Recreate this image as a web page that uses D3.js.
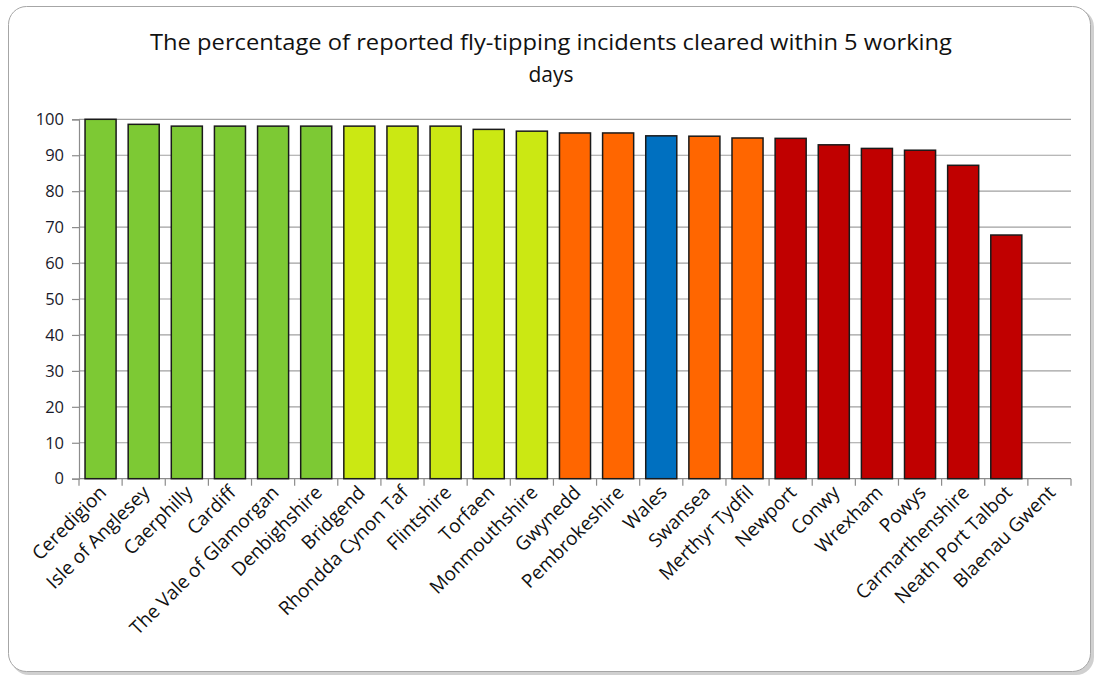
<!doctype html>
<html>
<head>
<style>
  body { margin: 0; background: #fff; }
  text { font-family: "Open Sans", sans-serif; }
</style>
<script src="https://d3js.org/d3.v7.min.js"></script>
</head>
<body>
<svg width="1098" height="677"></svg>
<script>
// data
var authorities = ["Ceredigion", "Isle of Anglesey", "Caerphilly", "Cardiff", "The Vale of Glamorgan",
  "Denbighshire", "Bridgend", "Rhondda Cynon Taf", "Flintshire", "Torfaen", "Monmouthshire",
  "Gwynedd", "Pembrokeshire", "Wales", "Swansea", "Merthyr Tydfil", "Newport", "Conwy",
  "Wrexham", "Powys", "Carmarthenshire", "Neath Port Talbot", "Blaenau Gwent"];
var percentCleared = [100, 98.6, 98.1, 98.1, 98.1, 98.1, 98.1, 98.1, 98.1, 97.2, 96.7,
  96.2, 96.2, 95.4, 95.3, 94.8, 94.7, 92.9, 91.9, 91.4, 87.2, 67.8, null];
var band = ["green", "green", "green", "green", "green", "green", "lime", "lime", "lime", "lime", "lime",
  "orange", "orange", "wales", "orange", "orange", "red", "red", "red", "red", "red", "red", "red"];
var yTicks = [0, 10, 20, 30, 40, 50, 60, 70, 80, 90, 100];

var colours = { green: "#7dc934", lime: "#cbe813", orange: "#ff6600", wales: "#0070c0", red: "#c00000" };

var svg = d3.select("svg");

// chart frame with soft shadow
svg.append("rect")
  .attr("x", 11).attr("y", 9).attr("width", 1083).attr("height", 666)
  .attr("rx", 18).attr("fill", "#d0d0d0");
svg.append("rect")
  .attr("x", 8.5).attr("y", 6.5).attr("width", 1082).attr("height", 665)
  .attr("rx", 18).attr("fill", "#fff").attr("stroke", "#a6a6a6").attr("stroke-width", 1);

svg.append("text")
  .attr("x", 551).attr("y", 50)
  .attr("text-anchor", "middle").attr("font-size", "21px").attr("fill", "#111")
  .attr("textLength", 802).attr("lengthAdjust", "spacingAndGlyphs")
  .text("The percentage of reported  fly-tipping incidents cleared within 5 working");
svg.append("text")
  .attr("x", 551).attr("y", 82)
  .attr("text-anchor", "middle").attr("font-size", "21px").attr("fill", "#111")
  .text("days");

var plotLeft = 79, plotRight = 1071, plotTop = 119.3, plotBottom = 478.7;

var x = d3.scaleBand().domain(authorities).range([plotLeft, plotRight]).paddingInner(0.28).paddingOuter(0.14);
var y = d3.scaleLinear().domain([0, 100]).range([plotBottom, plotTop]);

var g = svg.append("g");

// gridlines
g.selectAll(".grid")
  .data(yTicks.filter(function (d) { return d > 0; }))
  .enter().append("line")
  .attr("x1", plotLeft).attr("x2", plotRight)
  .attr("y1", function (d) { return y(d); }).attr("y2", function (d) { return y(d); })
  .attr("stroke", "#a0a0a0").attr("stroke-width", 1.2);

// y axis
var yAxis = g.append("g")
  .attr("transform", "translate(" + plotLeft + ",0)")
  .call(d3.axisLeft(y).tickValues(yTicks).tickSize(7).tickPadding(8));
yAxis.selectAll("line, path").attr("stroke", "#8c8c8c").attr("stroke-width", 1.2);
yAxis.selectAll("text").attr("font-size", "16.5px").attr("fill", "#1a1a2a")
  .style("font-family", "'Open Sans', sans-serif");

// x axis: ticks at category boundaries
var boundaries = d3.range(authorities.length + 1).map(function (i) {
  return plotLeft + i * (plotRight - plotLeft) / authorities.length;
});
g.append("line")
  .attr("x1", plotLeft).attr("x2", plotRight).attr("y1", plotBottom).attr("y2", plotBottom)
  .attr("stroke", "#8c8c8c").attr("stroke-width", 1.2);
g.selectAll(".xtick")
  .data(boundaries)
  .enter().append("line")
  .attr("x1", function (d) { return d; }).attr("x2", function (d) { return d; })
  .attr("y1", plotBottom).attr("y2", plotBottom + 7)
  .attr("stroke", "#8c8c8c").attr("stroke-width", 1.2);

// bars
g.selectAll(".bar")
  .data(authorities.map(function (a, i) { return { name: a, value: percentCleared[i], band: band[i] }; })
    .filter(function (d) { return d.value !== null; }))
  .enter().append("rect")
  .attr("x", function (d) { return x(d.name); })
  .attr("y", function (d) { return y(d.value); })
  .attr("width", x.bandwidth())
  .attr("height", function (d) { return plotBottom - y(d.value); })
  .attr("fill", function (d) { return colours[d.band]; })
  .attr("stroke", "#1a1a1a").attr("stroke-width", 1.5);

// category labels
g.selectAll(".cat")
  .data(authorities)
  .enter().append("text")
  .attr("transform", function (d) {
    return "translate(" + (x(d) + x.bandwidth() / 2 + 7) + "," + (plotBottom + 15) + ") rotate(-45)";
  })
  .attr("text-anchor", "end")
  .attr("font-size", "19px").attr("fill", "#111")
  .text(function (d) { return d; });
</script>
</body>
</html>
